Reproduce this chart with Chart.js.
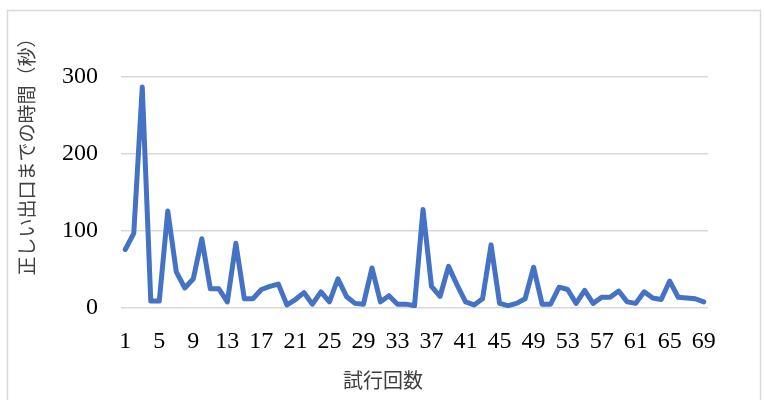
<!DOCTYPE html>
<html lang="ja">
<head>
    <meta charset="UTF-8">
    <title>試行回数と時間</title>
    <script src="https://cdn.jsdelivr.net/npm/chart.js@4.4.1/dist/chart.umd.min.js"></script>
    <style>
        body { margin: 0; background: #ffffff; }
        #wrap { width: 764px; height: 400px; }
    </style>
</head>
<body>
    <div id="wrap"><canvas id="grafica" width="764" height="400"></canvas></div>

    <script>
        // Datos: tiempo (segundos) por intento
        const intentos = [];
        for (let i = 1; i <= 69; i++) intentos.push(String(i));

        const tiempos = [
            76, 97, 287, 9, 9, 126, 47, 26, 38, 90,
            25, 25, 8, 84, 12, 12, 24, 28, 31, 4,
            11, 20, 5, 21, 8, 38, 15, 6, 5, 52,
            8, 16, 5, 5, 3, 128, 28, 15, 54, 30,
            8, 4, 12, 82, 6, 3, 6, 12, 53, 5,
            5, 27, 24, 6, 23, 6, 14, 14, 22, 8,
            6, 21, 13, 11, 35, 14, 13, 12, 8
        ];

        const ticksY = [0, 100, 200, 300];
        const tituloX = '試行回数';
        const tituloY = '正しい出口までの時間（秒）';

        const fuente = "'Liberation Serif', 'Noto Sans CJK JP', serif";

        // Fondo blanco, marco gris y títulos de ejes
        const marco = {
            id: 'marco',
            beforeDraw(chart) {
                const ctx = chart.ctx;
                ctx.save();
                ctx.fillStyle = '#ffffff';
                ctx.fillRect(0, 0, chart.width, chart.height);
                ctx.strokeStyle = '#d9d9d9';
                ctx.lineWidth = 1.5;
                ctx.strokeRect(7.5, 10.5, 753, 400);
                ctx.restore();
            },
            afterDraw(chart) {
                const ctx = chart.ctx;
                ctx.save();
                ctx.fillStyle = '#404040';
                ctx.textAlign = 'center';
                ctx.textBaseline = 'middle';
                ctx.font = "20px " + fuente;
                ctx.fillText(tituloX, 383, 383);
                ctx.translate(29, 152);
                ctx.rotate(-Math.PI / 2);
                ctx.font = "19px " + fuente;
                ctx.fillText(tituloY, 0, 0);
                ctx.restore();
            }
        };

        new Chart(document.getElementById('grafica'), {
            type: 'line',
            data: {
                labels: intentos,
                datasets: [{
                    data: tiempos,
                    borderColor: '#4472C4',
                    borderWidth: 5,
                    borderJoinStyle: 'round',
                    borderCapStyle: 'round',
                    pointRadius: 0,
                    tension: 0,
                    fill: false
                }]
            },
            options: {
                responsive: false,
                animation: false,
                layout: { padding: { top: 77, right: 56, left: 10, bottom: 0 } },
                plugins: {
                    legend: { display: false },
                    tooltip: { enabled: false }
                },
                scales: {
                    x: {
                        offset: true,
                        grid: { display: false },
                        border: { display: false },
                        ticks: {
                            autoSkip: false,
                            maxRotation: 0,
                            padding: 11,
                            color: '#000000',
                            font: { family: fuente, size: 24 },
                            callback: (v, i) => (i % 4 === 0 ? intentos[i] : '')
                        },
                        afterFit: (s) => { s.height = 92; }
                    },
                    y: {
                        min: 0,
                        max: 300,
                        afterBuildTicks: (s) => { s.ticks = ticksY.map(v => ({ value: v })); },
                        grid: { color: '#d9d9d9', lineWidth: 1.5, drawTicks: false },
                        border: { display: false },
                        ticks: {
                            padding: 23,
                            color: '#000000',
                            font: { family: fuente, size: 24 }
                        },
                        afterFit: (s) => { s.width = 111; }
                    }
                }
            },
            plugins: [marco]
        });
    </script>
</body>
</html>
